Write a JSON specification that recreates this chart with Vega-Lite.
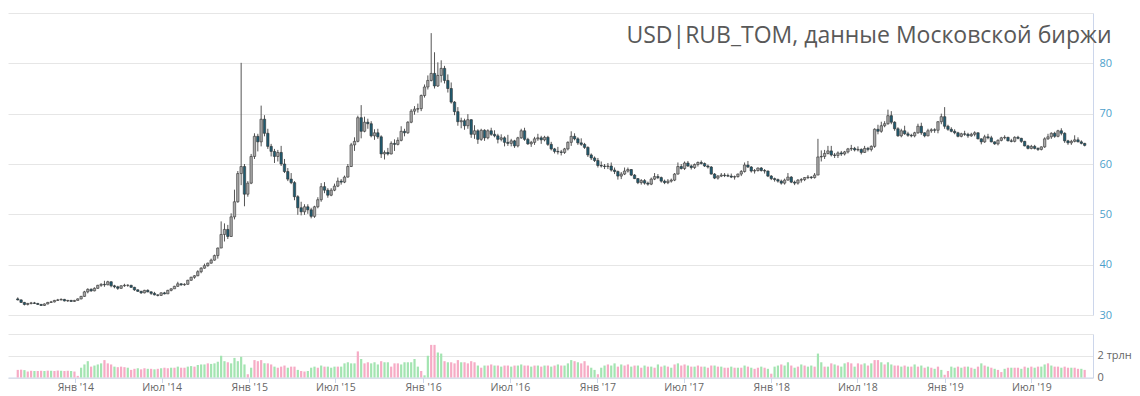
{
"$schema": "https://vega.github.io/schema/vega-lite/v6.json",
"background": "white",
"padding": {"left": 8, "top": 13, "right": 0, "bottom": 0},
"autosize": {"type": "pad"},
"bounds": "flush",
"spacing": 19,
"config": {"view": {"stroke": null}, "font": "Open Sans"},
"data": {"values": [
{"date":"2013-09-02","open":33.2,"high":33.5,"low":32.9,"close":33.0,"vol":0.70,"vc":"p"},
{"date":"2013-09-09","open":33.0,"high":33.1,"low":32.4,"close":32.5,"vol":0.72,"vc":"p"},
{"date":"2013-09-16","open":32.5,"high":32.6,"low":31.9,"close":32.1,"vol":0.68,"vc":"g"},
{"date":"2013-09-23","open":32.1,"high":32.4,"low":31.9,"close":32.3,"vol":0.55,"vc":"p"},
{"date":"2013-09-30","open":32.3,"high":32.6,"low":32.1,"close":32.4,"vol":0.62,"vc":"p"},
{"date":"2013-10-07","open":32.4,"high":32.6,"low":32.2,"close":32.3,"vol":0.60,"vc":"g"},
{"date":"2013-10-14","open":32.3,"high":32.4,"low":32.0,"close":32.1,"vol":0.60,"vc":"p"},
{"date":"2013-10-21","open":32.1,"high":32.2,"low":31.8,"close":31.9,"vol":0.62,"vc":"p"},
{"date":"2013-10-28","open":31.9,"high":32.3,"low":31.8,"close":32.2,"vol":0.60,"vc":"g"},
{"date":"2013-11-04","open":32.2,"high":32.6,"low":32.1,"close":32.5,"vol":0.63,"vc":"p"},
{"date":"2013-11-11","open":32.5,"high":32.8,"low":32.4,"close":32.6,"vol":0.62,"vc":"g"},
{"date":"2013-11-18","open":32.6,"high":33.0,"low":32.5,"close":32.9,"vol":0.60,"vc":"p"},
{"date":"2013-11-25","open":32.9,"high":33.2,"low":32.8,"close":33.0,"vol":0.64,"vc":"p"},
{"date":"2013-12-02","open":33.0,"high":33.3,"low":32.9,"close":33.1,"vol":0.62,"vc":"g"},
{"date":"2013-12-09","open":33.1,"high":33.2,"low":32.7,"close":32.8,"vol":0.60,"vc":"p"},
{"date":"2013-12-16","open":32.8,"high":33.0,"low":32.6,"close":32.9,"vol":0.62,"vc":"p"},
{"date":"2013-12-23","open":32.9,"high":33.0,"low":32.6,"close":32.7,"vol":0.60,"vc":"g"},
{"date":"2013-12-30","open":32.7,"high":33.0,"low":32.6,"close":32.9,"vol":0.55,"vc":"p"},
{"date":"2014-01-06","open":32.9,"high":33.3,"low":32.9,"close":33.2,"vol":0.15,"vc":"p"},
{"date":"2014-01-13","open":33.2,"high":33.8,"low":33.1,"close":33.7,"vol":0.90,"vc":"g"},
{"date":"2014-01-20","open":33.7,"high":34.8,"low":33.6,"close":34.6,"vol":1.20,"vc":"g"},
{"date":"2014-01-27","open":34.6,"high":35.3,"low":34.3,"close":35.1,"vol":1.50,"vc":"g"},
{"date":"2014-02-03","open":35.1,"high":35.3,"low":34.6,"close":34.8,"vol":1.00,"vc":"p"},
{"date":"2014-02-10","open":34.8,"high":35.5,"low":34.7,"close":35.3,"vol":1.10,"vc":"g"},
{"date":"2014-02-17","open":35.3,"high":36.0,"low":35.2,"close":35.9,"vol":1.20,"vc":"g"},
{"date":"2014-02-24","open":35.9,"high":36.3,"low":35.6,"close":36.1,"vol":1.30,"vc":"g"},
{"date":"2014-03-03","open":36.1,"high":36.8,"low":35.6,"close":36.0,"vol":1.60,"vc":"p"},
{"date":"2014-03-10","open":36.0,"high":36.8,"low":35.9,"close":36.6,"vol":1.30,"vc":"p"},
{"date":"2014-03-17","open":36.6,"high":36.7,"low":35.5,"close":35.8,"vol":1.20,"vc":"p"},
{"date":"2014-03-24","open":35.8,"high":36.0,"low":35.3,"close":35.6,"vol":1.00,"vc":"g"},
{"date":"2014-03-31","open":35.6,"high":35.8,"low":35.0,"close":35.3,"vol":0.95,"vc":"p"},
{"date":"2014-04-07","open":35.3,"high":35.9,"low":35.2,"close":35.8,"vol":1.00,"vc":"p"},
{"date":"2014-04-14","open":35.8,"high":36.2,"low":35.6,"close":35.9,"vol":0.95,"vc":"p"},
{"date":"2014-04-21","open":35.9,"high":36.1,"low":35.6,"close":35.9,"vol":0.90,"vc":"g"},
{"date":"2014-04-28","open":35.9,"high":36.0,"low":35.4,"close":35.5,"vol":0.70,"vc":"p"},
{"date":"2014-05-05","open":35.5,"high":35.6,"low":34.8,"close":35.0,"vol":0.80,"vc":"p"},
{"date":"2014-05-12","open":35.0,"high":35.1,"low":34.6,"close":34.7,"vol":0.85,"vc":"g"},
{"date":"2014-05-19","open":34.7,"high":34.8,"low":34.2,"close":34.4,"vol":0.75,"vc":"p"},
{"date":"2014-05-26","open":34.4,"high":35.0,"low":34.3,"close":34.9,"vol":0.85,"vc":"p"},
{"date":"2014-06-02","open":34.9,"high":35.1,"low":34.5,"close":34.6,"vol":0.80,"vc":"g"},
{"date":"2014-06-09","open":34.6,"high":34.7,"low":34.0,"close":34.3,"vol":0.80,"vc":"p"},
{"date":"2014-06-16","open":34.3,"high":34.6,"low":33.9,"close":34.0,"vol":0.75,"vc":"g"},
{"date":"2014-06-23","open":34.0,"high":34.1,"low":33.7,"close":33.9,"vol":0.80,"vc":"p"},
{"date":"2014-06-30","open":33.9,"high":34.5,"low":33.8,"close":34.4,"vol":0.85,"vc":"g"},
{"date":"2014-07-07","open":34.4,"high":34.6,"low":34.1,"close":34.2,"vol":0.90,"vc":"p"},
{"date":"2014-07-14","open":34.2,"high":35.0,"low":34.2,"close":34.9,"vol":0.85,"vc":"p"},
{"date":"2014-07-21","open":34.9,"high":35.3,"low":34.7,"close":35.2,"vol":0.90,"vc":"g"},
{"date":"2014-07-28","open":35.2,"high":35.8,"low":35.2,"close":35.7,"vol":0.90,"vc":"p"},
{"date":"2014-08-04","open":35.7,"high":36.6,"low":35.6,"close":36.2,"vol":1.00,"vc":"g"},
{"date":"2014-08-11","open":36.2,"high":36.3,"low":35.8,"close":36.0,"vol":0.90,"vc":"p"},
{"date":"2014-08-18","open":36.0,"high":36.3,"low":35.8,"close":36.1,"vol":0.90,"vc":"p"},
{"date":"2014-08-25","open":36.1,"high":37.0,"low":36.0,"close":36.9,"vol":1.00,"vc":"g"},
{"date":"2014-09-01","open":36.9,"high":37.6,"low":36.8,"close":37.5,"vol":1.05,"vc":"g"},
{"date":"2014-09-08","open":37.5,"high":37.9,"low":37.2,"close":37.8,"vol":1.00,"vc":"p"},
{"date":"2014-09-15","open":37.8,"high":38.9,"low":37.7,"close":38.6,"vol":1.15,"vc":"g"},
{"date":"2014-09-22","open":38.6,"high":39.5,"low":38.3,"close":39.3,"vol":1.20,"vc":"g"},
{"date":"2014-09-29","open":39.3,"high":40.2,"low":39.2,"close":39.8,"vol":1.20,"vc":"g"},
{"date":"2014-10-06","open":39.8,"high":40.4,"low":39.6,"close":40.3,"vol":1.30,"vc":"p"},
{"date":"2014-10-13","open":40.3,"high":41.2,"low":40.2,"close":40.9,"vol":1.25,"vc":"g"},
{"date":"2014-10-20","open":40.9,"high":42.0,"low":40.8,"close":41.8,"vol":1.30,"vc":"g"},
{"date":"2014-10-27","open":41.8,"high":43.4,"low":41.2,"close":43.3,"vol":1.45,"vc":"g"},
{"date":"2014-11-03","open":43.3,"high":48.6,"low":43.3,"close":46.0,"vol":2.00,"vc":"g"},
{"date":"2014-11-10","open":46.0,"high":48.2,"low":44.6,"close":47.0,"vol":1.50,"vc":"g"},
{"date":"2014-11-17","open":47.0,"high":47.9,"low":45.1,"close":45.6,"vol":1.40,"vc":"p"},
{"date":"2014-11-24","open":45.6,"high":50.2,"low":45.5,"close":49.5,"vol":1.30,"vc":"g"},
{"date":"2014-12-01","open":49.5,"high":54.9,"low":49.0,"close":52.5,"vol":1.80,"vc":"g"},
{"date":"2014-12-08","open":52.5,"high":58.6,"low":52.3,"close":58.1,"vol":1.50,"vc":"g"},
{"date":"2014-12-15","open":58.1,"high":80.1,"low":55.8,"close":59.5,"vol":1.90,"vc":"g"},
{"date":"2014-12-22","open":59.5,"high":60.0,"low":51.6,"close":54.0,"vol":1.20,"vc":"g"},
{"date":"2014-12-29","open":54.0,"high":56.6,"low":53.5,"close":56.2,"vol":0.30,"vc":"p"},
{"date":"2015-01-05","open":56.2,"high":62.0,"low":56.0,"close":61.5,"vol":0.90,"vc":"g"},
{"date":"2015-01-12","open":61.5,"high":66.1,"low":61.0,"close":65.5,"vol":1.60,"vc":"p"},
{"date":"2015-01-19","open":65.5,"high":66.0,"low":62.5,"close":64.4,"vol":1.50,"vc":"p"},
{"date":"2015-01-26","open":64.4,"high":71.6,"low":63.5,"close":68.9,"vol":1.60,"vc":"p"},
{"date":"2015-02-02","open":68.9,"high":69.7,"low":65.5,"close":66.1,"vol":1.30,"vc":"g"},
{"date":"2015-02-09","open":66.1,"high":67.0,"low":63.0,"close":63.5,"vol":1.30,"vc":"p"},
{"date":"2015-02-16","open":63.5,"high":64.0,"low":61.5,"close":62.5,"vol":1.20,"vc":"p"},
{"date":"2015-02-23","open":62.5,"high":63.0,"low":60.2,"close":61.5,"vol":1.00,"vc":"g"},
{"date":"2015-03-02","open":61.5,"high":62.8,"low":60.5,"close":62.3,"vol":0.90,"vc":"p"},
{"date":"2015-03-09","open":62.3,"high":63.6,"low":59.6,"close":60.0,"vol":1.00,"vc":"p"},
{"date":"2015-03-16","open":60.0,"high":61.0,"low":58.2,"close":58.5,"vol":1.10,"vc":"p"},
{"date":"2015-03-23","open":58.5,"high":59.2,"low":56.6,"close":57.0,"vol":0.90,"vc":"g"},
{"date":"2015-03-30","open":57.0,"high":58.2,"low":56.0,"close":56.3,"vol":1.00,"vc":"p"},
{"date":"2015-04-06","open":56.3,"high":56.6,"low":52.8,"close":53.5,"vol":1.00,"vc":"p"},
{"date":"2015-04-13","open":53.5,"high":53.8,"low":49.9,"close":51.3,"vol":0.70,"vc":"g"},
{"date":"2015-04-20","open":51.3,"high":52.5,"low":49.8,"close":50.5,"vol":0.60,"vc":"p"},
{"date":"2015-04-27","open":50.5,"high":52.0,"low":49.9,"close":51.5,"vol":0.55,"vc":"p"},
{"date":"2015-05-04","open":51.5,"high":52.0,"low":50.1,"close":50.9,"vol":0.60,"vc":"g"},
{"date":"2015-05-11","open":50.9,"high":51.3,"low":49.2,"close":49.6,"vol":0.90,"vc":"g"},
{"date":"2015-05-18","open":49.6,"high":51.7,"low":49.3,"close":51.5,"vol":1.00,"vc":"g"},
{"date":"2015-05-25","open":51.5,"high":53.4,"low":51.2,"close":52.9,"vol":0.90,"vc":"p"},
{"date":"2015-06-01","open":52.9,"high":56.2,"low":52.5,"close":55.5,"vol":1.10,"vc":"g"},
{"date":"2015-06-08","open":55.5,"high":56.4,"low":54.2,"close":54.8,"vol":1.00,"vc":"p"},
{"date":"2015-06-15","open":54.8,"high":55.2,"low":53.3,"close":53.8,"vol":1.00,"vc":"g"},
{"date":"2015-06-22","open":53.8,"high":55.2,"low":53.6,"close":54.8,"vol":0.90,"vc":"g"},
{"date":"2015-06-29","open":54.8,"high":56.1,"low":54.6,"close":55.6,"vol":1.00,"vc":"g"},
{"date":"2015-07-06","open":55.6,"high":57.3,"low":55.4,"close":56.6,"vol":1.00,"vc":"p"},
{"date":"2015-07-13","open":56.6,"high":57.0,"low":55.9,"close":56.4,"vol":1.00,"vc":"g"},
{"date":"2015-07-20","open":56.4,"high":57.7,"low":56.2,"close":57.4,"vol":1.30,"vc":"g"},
{"date":"2015-07-27","open":57.4,"high":60.0,"low":57.3,"close":59.5,"vol":1.40,"vc":"g"},
{"date":"2015-08-03","open":59.5,"high":64.2,"low":59.4,"close":63.8,"vol":1.30,"vc":"g"},
{"date":"2015-08-10","open":63.8,"high":65.3,"low":62.6,"close":64.5,"vol":1.30,"vc":"g"},
{"date":"2015-08-17","open":64.5,"high":69.6,"low":64.3,"close":69.2,"vol":2.40,"vc":"p"},
{"date":"2015-08-24","open":69.2,"high":71.7,"low":65.1,"close":66.5,"vol":1.70,"vc":"g"},
{"date":"2015-08-31","open":66.5,"high":69.4,"low":66.3,"close":68.3,"vol":1.30,"vc":"p"},
{"date":"2015-09-07","open":68.3,"high":69.0,"low":67.0,"close":68.0,"vol":1.40,"vc":"p"},
{"date":"2015-09-14","open":68.0,"high":68.5,"low":65.3,"close":65.6,"vol":1.30,"vc":"g"},
{"date":"2015-09-21","open":65.6,"high":66.9,"low":64.8,"close":66.2,"vol":1.40,"vc":"g"},
{"date":"2015-09-28","open":66.2,"high":67.0,"low":65.0,"close":65.4,"vol":1.20,"vc":"g"},
{"date":"2015-10-05","open":65.4,"high":65.7,"low":61.2,"close":62.0,"vol":1.50,"vc":"p"},
{"date":"2015-10-12","open":62.0,"high":62.7,"low":60.9,"close":62.3,"vol":1.40,"vc":"g"},
{"date":"2015-10-19","open":62.3,"high":63.2,"low":61.7,"close":62.0,"vol":1.40,"vc":"g"},
{"date":"2015-10-26","open":62.0,"high":64.5,"low":61.9,"close":64.1,"vol":1.00,"vc":"p"},
{"date":"2015-11-02","open":64.1,"high":64.9,"low":62.6,"close":63.9,"vol":1.30,"vc":"p"},
{"date":"2015-11-09","open":63.9,"high":65.3,"low":63.7,"close":64.7,"vol":1.30,"vc":"p"},
{"date":"2015-11-16","open":64.7,"high":67.5,"low":64.5,"close":66.5,"vol":1.20,"vc":"g"},
{"date":"2015-11-23","open":66.5,"high":67.0,"low":65.5,"close":66.2,"vol":1.40,"vc":"g"},
{"date":"2015-11-30","open":66.2,"high":68.5,"low":66.0,"close":68.3,"vol":1.40,"vc":"g"},
{"date":"2015-12-07","open":68.3,"high":70.9,"low":68.1,"close":70.5,"vol":1.40,"vc":"g"},
{"date":"2015-12-14","open":70.5,"high":71.5,"low":69.8,"close":70.9,"vol":1.70,"vc":"g"},
{"date":"2015-12-21","open":70.9,"high":72.0,"low":70.2,"close":71.0,"vol":1.00,"vc":"g"},
{"date":"2015-12-28","open":71.0,"high":73.8,"low":70.5,"close":73.6,"vol":0.60,"vc":"p"},
{"date":"2016-01-04","open":73.6,"high":75.8,"low":73.2,"close":75.3,"vol":0.20,"vc":"g"},
{"date":"2016-01-11","open":75.3,"high":77.6,"low":74.8,"close":76.6,"vol":2.00,"vc":"g"},
{"date":"2016-01-18","open":76.6,"high":86.0,"low":76.4,"close":78.0,"vol":3.00,"vc":"p"},
{"date":"2016-01-25","open":78.0,"high":82.2,"low":75.0,"close":75.5,"vol":3.00,"vc":"p"},
{"date":"2016-02-01","open":75.5,"high":80.2,"low":75.3,"close":77.6,"vol":2.30,"vc":"g"},
{"date":"2016-02-08","open":77.6,"high":80.6,"low":76.2,"close":79.0,"vol":2.20,"vc":"g"},
{"date":"2016-02-15","open":79.0,"high":79.5,"low":76.0,"close":76.6,"vol":1.50,"vc":"p"},
{"date":"2016-02-22","open":76.6,"high":77.8,"low":74.2,"close":75.0,"vol":1.40,"vc":"g"},
{"date":"2016-02-29","open":75.0,"high":76.2,"low":72.0,"close":72.3,"vol":1.40,"vc":"p"},
{"date":"2016-03-07","open":72.3,"high":72.5,"low":69.7,"close":70.4,"vol":1.30,"vc":"p"},
{"date":"2016-03-14","open":70.4,"high":71.3,"low":67.6,"close":68.4,"vol":1.60,"vc":"p"},
{"date":"2016-03-21","open":68.4,"high":69.2,"low":67.1,"close":68.6,"vol":1.40,"vc":"g"},
{"date":"2016-03-28","open":68.6,"high":69.0,"low":66.8,"close":67.6,"vol":1.40,"vc":"p"},
{"date":"2016-04-04","open":67.6,"high":69.9,"low":67.0,"close":68.8,"vol":1.30,"vc":"p"},
{"date":"2016-04-11","open":68.8,"high":68.9,"low":65.2,"close":65.9,"vol":1.50,"vc":"p"},
{"date":"2016-04-18","open":65.9,"high":67.7,"low":65.0,"close":66.6,"vol":1.40,"vc":"p"},
{"date":"2016-04-25","open":66.6,"high":66.9,"low":64.0,"close":64.9,"vol":1.10,"vc":"g"},
{"date":"2016-05-02","open":64.9,"high":67.0,"low":64.6,"close":66.7,"vol":0.90,"vc":"p"},
{"date":"2016-05-09","open":66.7,"high":66.9,"low":64.6,"close":65.2,"vol":1.10,"vc":"g"},
{"date":"2016-05-16","open":65.2,"high":66.9,"low":64.9,"close":66.6,"vol":1.10,"vc":"p"},
{"date":"2016-05-23","open":66.6,"high":67.2,"low":65.6,"close":65.9,"vol":1.20,"vc":"p"},
{"date":"2016-05-30","open":65.9,"high":66.7,"low":65.3,"close":65.6,"vol":1.10,"vc":"g"},
{"date":"2016-06-06","open":65.6,"high":66.0,"low":64.1,"close":64.9,"vol":1.10,"vc":"p"},
{"date":"2016-06-13","open":64.9,"high":65.9,"low":64.5,"close":65.2,"vol":1.00,"vc":"g"},
{"date":"2016-06-20","open":65.2,"high":65.5,"low":63.5,"close":64.3,"vol":1.10,"vc":"p"},
{"date":"2016-06-27","open":64.3,"high":65.8,"low":63.6,"close":64.1,"vol":1.10,"vc":"p"},
{"date":"2016-07-04","open":64.1,"high":65.0,"low":63.5,"close":64.6,"vol":1.00,"vc":"g"},
{"date":"2016-07-11","open":64.6,"high":64.8,"low":63.2,"close":63.6,"vol":1.10,"vc":"p"},
{"date":"2016-07-18","open":63.6,"high":65.4,"low":63.3,"close":65.2,"vol":1.10,"vc":"g"},
{"date":"2016-07-25","open":65.2,"high":67.0,"low":65.0,"close":66.6,"vol":1.20,"vc":"g"},
{"date":"2016-08-01","open":66.6,"high":67.2,"low":64.6,"close":64.9,"vol":1.10,"vc":"p"},
{"date":"2016-08-08","open":64.9,"high":65.2,"low":63.8,"close":64.0,"vol":1.10,"vc":"p"},
{"date":"2016-08-15","open":64.0,"high":64.6,"low":63.4,"close":64.3,"vol":1.00,"vc":"g"},
{"date":"2016-08-22","open":64.3,"high":65.4,"low":63.8,"close":65.0,"vol":1.10,"vc":"p"},
{"date":"2016-08-29","open":65.0,"high":66.0,"low":64.6,"close":65.2,"vol":1.10,"vc":"g"},
{"date":"2016-09-05","open":65.2,"high":65.6,"low":64.0,"close":64.8,"vol":1.00,"vc":"p"},
{"date":"2016-09-12","open":64.8,"high":65.6,"low":64.5,"close":65.3,"vol":1.10,"vc":"g"},
{"date":"2016-09-19","open":65.3,"high":65.6,"low":63.6,"close":63.9,"vol":1.10,"vc":"p"},
{"date":"2016-09-26","open":63.9,"high":64.4,"low":62.7,"close":63.0,"vol":1.00,"vc":"g"},
{"date":"2016-10-03","open":63.0,"high":63.2,"low":62.1,"close":62.5,"vol":1.10,"vc":"p"},
{"date":"2016-10-10","open":62.5,"high":63.4,"low":61.9,"close":62.4,"vol":1.20,"vc":"g"},
{"date":"2016-10-17","open":62.4,"high":62.8,"low":61.7,"close":62.3,"vol":1.10,"vc":"p"},
{"date":"2016-10-24","open":62.3,"high":63.2,"low":62.0,"close":63.0,"vol":1.10,"vc":"g"},
{"date":"2016-10-31","open":63.0,"high":64.5,"low":62.7,"close":64.3,"vol":1.30,"vc":"g"},
{"date":"2016-11-07","open":64.3,"high":66.5,"low":63.6,"close":65.5,"vol":1.60,"vc":"g"},
{"date":"2016-11-14","open":65.5,"high":66.1,"low":64.7,"close":65.0,"vol":1.50,"vc":"p"},
{"date":"2016-11-21","open":65.0,"high":65.3,"low":63.8,"close":64.2,"vol":1.40,"vc":"g"},
{"date":"2016-11-28","open":64.2,"high":65.1,"low":63.6,"close":63.9,"vol":1.30,"vc":"p"},
{"date":"2016-12-05","open":63.9,"high":64.2,"low":63.0,"close":63.3,"vol":1.50,"vc":"p"},
{"date":"2016-12-12","open":63.3,"high":63.5,"low":61.4,"close":61.8,"vol":1.10,"vc":"p"},
{"date":"2016-12-19","open":61.8,"high":62.1,"low":60.8,"close":61.2,"vol":0.90,"vc":"g"},
{"date":"2016-12-26","open":61.2,"high":61.5,"low":60.4,"close":60.7,"vol":0.70,"vc":"g"},
{"date":"2017-01-02","open":60.7,"high":61.2,"low":59.3,"close":59.7,"vol":0.30,"vc":"p"},
{"date":"2017-01-09","open":59.7,"high":60.5,"low":59.3,"close":59.6,"vol":0.90,"vc":"g"},
{"date":"2017-01-16","open":59.6,"high":60.0,"low":59.0,"close":59.5,"vol":1.10,"vc":"g"},
{"date":"2017-01-23","open":59.5,"high":60.2,"low":59.0,"close":59.6,"vol":1.20,"vc":"p"},
{"date":"2017-01-30","open":59.6,"high":60.3,"low":58.5,"close":58.8,"vol":1.10,"vc":"g"},
{"date":"2017-02-06","open":58.8,"high":59.3,"low":58.0,"close":58.5,"vol":1.30,"vc":"g"},
{"date":"2017-02-13","open":58.5,"high":58.7,"low":56.9,"close":57.6,"vol":1.00,"vc":"p"},
{"date":"2017-02-20","open":57.6,"high":58.4,"low":57.0,"close":58.0,"vol":1.20,"vc":"g"},
{"date":"2017-02-27","open":58.0,"high":59.3,"low":57.8,"close":58.6,"vol":1.10,"vc":"p"},
{"date":"2017-03-06","open":58.6,"high":59.3,"low":58.3,"close":58.9,"vol":1.20,"vc":"p"},
{"date":"2017-03-13","open":58.9,"high":59.0,"low":57.6,"close":57.8,"vol":1.00,"vc":"g"},
{"date":"2017-03-20","open":57.8,"high":58.0,"low":57.0,"close":57.1,"vol":1.10,"vc":"p"},
{"date":"2017-03-27","open":57.1,"high":57.2,"low":56.0,"close":56.3,"vol":1.10,"vc":"g"},
{"date":"2017-04-03","open":56.3,"high":57.0,"low":55.9,"close":56.7,"vol":0.90,"vc":"p"},
{"date":"2017-04-10","open":56.7,"high":57.0,"low":55.9,"close":56.2,"vol":1.10,"vc":"g"},
{"date":"2017-04-17","open":56.2,"high":56.5,"low":55.7,"close":56.0,"vol":1.00,"vc":"p"},
{"date":"2017-04-24","open":56.0,"high":57.3,"low":55.8,"close":57.0,"vol":1.00,"vc":"g"},
{"date":"2017-05-01","open":57.0,"high":58.2,"low":56.8,"close":57.5,"vol":0.90,"vc":"p"},
{"date":"2017-05-08","open":57.5,"high":58.0,"low":57.0,"close":57.3,"vol":1.20,"vc":"g"},
{"date":"2017-05-15","open":57.3,"high":57.5,"low":56.3,"close":56.6,"vol":1.00,"vc":"p"},
{"date":"2017-05-22","open":56.6,"high":56.9,"low":56.0,"close":56.3,"vol":1.10,"vc":"g"},
{"date":"2017-05-29","open":56.3,"high":57.0,"low":56.0,"close":56.6,"vol":1.00,"vc":"p"},
{"date":"2017-06-05","open":56.6,"high":57.1,"low":56.3,"close":56.8,"vol":0.90,"vc":"g"},
{"date":"2017-06-12","open":56.8,"high":58.2,"low":56.6,"close":58.0,"vol":1.20,"vc":"p"},
{"date":"2017-06-19","open":58.0,"high":60.3,"low":57.9,"close":59.5,"vol":1.30,"vc":"g"},
{"date":"2017-06-26","open":59.5,"high":60.0,"low":58.9,"close":59.1,"vol":1.10,"vc":"p"},
{"date":"2017-07-03","open":59.1,"high":60.5,"low":58.8,"close":60.2,"vol":1.20,"vc":"p"},
{"date":"2017-07-10","open":60.2,"high":60.6,"low":59.4,"close":59.6,"vol":1.10,"vc":"g"},
{"date":"2017-07-17","open":59.6,"high":59.9,"low":58.9,"close":59.3,"vol":1.00,"vc":"p"},
{"date":"2017-07-24","open":59.3,"high":60.1,"low":59.0,"close":59.9,"vol":1.00,"vc":"g"},
{"date":"2017-07-31","open":59.9,"high":60.5,"low":59.5,"close":60.3,"vol":1.10,"vc":"p"},
{"date":"2017-08-07","open":60.3,"high":60.7,"low":59.9,"close":60.1,"vol":1.00,"vc":"p"},
{"date":"2017-08-14","open":60.1,"high":60.3,"low":59.4,"close":59.6,"vol":1.00,"vc":"g"},
{"date":"2017-08-21","open":59.6,"high":59.9,"low":59.1,"close":59.4,"vol":0.90,"vc":"p"},
{"date":"2017-08-28","open":59.4,"high":59.6,"low":57.9,"close":58.0,"vol":1.10,"vc":"p"},
{"date":"2017-09-04","open":58.0,"high":58.2,"low":57.0,"close":57.2,"vol":1.10,"vc":"g"},
{"date":"2017-09-11","open":57.2,"high":57.8,"low":56.9,"close":57.6,"vol":1.00,"vc":"p"},
{"date":"2017-09-18","open":57.6,"high":58.2,"low":57.4,"close":57.8,"vol":1.00,"vc":"g"},
{"date":"2017-09-25","open":57.8,"high":58.2,"low":57.4,"close":57.7,"vol":0.90,"vc":"p"},
{"date":"2017-10-02","open":57.7,"high":58.1,"low":57.4,"close":57.6,"vol":0.90,"vc":"p"},
{"date":"2017-10-09","open":57.6,"high":58.1,"low":57.2,"close":57.4,"vol":1.00,"vc":"g"},
{"date":"2017-10-16","open":57.4,"high":57.7,"low":56.9,"close":57.5,"vol":0.90,"vc":"p"},
{"date":"2017-10-23","open":57.5,"high":58.1,"low":57.3,"close":58.0,"vol":0.90,"vc":"g"},
{"date":"2017-10-30","open":58.0,"high":58.8,"low":57.6,"close":58.5,"vol":0.90,"vc":"p"},
{"date":"2017-11-06","open":58.5,"high":60.3,"low":58.3,"close":59.8,"vol":1.10,"vc":"g"},
{"date":"2017-11-13","open":59.8,"high":60.6,"low":59.2,"close":59.4,"vol":1.00,"vc":"p"},
{"date":"2017-11-20","open":59.4,"high":59.6,"low":58.3,"close":58.6,"vol":0.90,"vc":"g"},
{"date":"2017-11-27","open":58.6,"high":59.0,"low":58.1,"close":58.7,"vol":0.80,"vc":"p"},
{"date":"2017-12-04","open":58.7,"high":59.3,"low":58.5,"close":59.2,"vol":0.90,"vc":"p"},
{"date":"2017-12-11","open":59.2,"high":59.4,"low":58.5,"close":58.7,"vol":1.00,"vc":"g"},
{"date":"2017-12-18","open":58.7,"high":59.0,"low":58.1,"close":58.6,"vol":0.90,"vc":"p"},
{"date":"2017-12-25","open":58.6,"high":58.7,"low":57.4,"close":57.6,"vol":0.80,"vc":"g"},
{"date":"2018-01-01","open":57.6,"high":57.8,"low":56.8,"close":57.1,"vol":0.35,"vc":"p"},
{"date":"2018-01-08","open":57.1,"high":57.3,"low":56.5,"close":56.9,"vol":1.00,"vc":"g"},
{"date":"2018-01-15","open":56.9,"high":57.1,"low":56.3,"close":56.6,"vol":1.10,"vc":"g"},
{"date":"2018-01-22","open":56.6,"high":56.9,"low":55.9,"close":56.2,"vol":1.20,"vc":"p"},
{"date":"2018-01-29","open":56.2,"high":57.1,"low":55.9,"close":56.8,"vol":1.10,"vc":"g"},
{"date":"2018-02-05","open":56.8,"high":58.2,"low":56.7,"close":57.4,"vol":1.40,"vc":"g"},
{"date":"2018-02-12","open":57.4,"high":57.6,"low":56.2,"close":56.4,"vol":1.10,"vc":"p"},
{"date":"2018-02-19","open":56.4,"high":56.7,"low":55.8,"close":56.2,"vol":0.90,"vc":"g"},
{"date":"2018-02-26","open":56.2,"high":57.0,"low":55.9,"close":56.8,"vol":1.00,"vc":"p"},
{"date":"2018-03-05","open":56.8,"high":57.2,"low":56.3,"close":56.9,"vol":1.20,"vc":"g"},
{"date":"2018-03-12","open":56.9,"high":57.4,"low":56.6,"close":57.3,"vol":1.10,"vc":"p"},
{"date":"2018-03-19","open":57.3,"high":57.8,"low":57.0,"close":57.4,"vol":1.00,"vc":"g"},
{"date":"2018-03-26","open":57.4,"high":57.6,"low":57.0,"close":57.3,"vol":1.10,"vc":"g"},
{"date":"2018-04-02","open":57.3,"high":58.2,"low":57.1,"close":57.8,"vol":1.00,"vc":"p"},
{"date":"2018-04-09","open":57.8,"high":65.0,"low":57.8,"close":61.4,"vol":2.20,"vc":"g"},
{"date":"2018-04-16","open":61.4,"high":62.7,"low":60.5,"close":61.5,"vol":1.40,"vc":"g"},
{"date":"2018-04-23","open":61.5,"high":62.8,"low":61.0,"close":62.1,"vol":1.00,"vc":"p"},
{"date":"2018-04-30","open":62.1,"high":63.6,"low":61.9,"close":62.6,"vol":1.00,"vc":"g"},
{"date":"2018-05-07","open":62.6,"high":63.6,"low":61.5,"close":61.8,"vol":1.30,"vc":"p"},
{"date":"2018-05-14","open":61.8,"high":62.2,"low":61.2,"close":61.7,"vol":1.20,"vc":"g"},
{"date":"2018-05-21","open":61.7,"high":62.5,"low":61.2,"close":62.2,"vol":1.10,"vc":"p"},
{"date":"2018-05-28","open":62.2,"high":62.6,"low":61.6,"close":62.0,"vol":1.00,"vc":"g"},
{"date":"2018-06-04","open":62.0,"high":62.6,"low":61.7,"close":62.4,"vol":1.30,"vc":"g"},
{"date":"2018-06-11","open":62.4,"high":63.2,"low":62.1,"close":63.0,"vol":1.40,"vc":"p"},
{"date":"2018-06-18","open":63.0,"high":63.8,"low":62.6,"close":63.1,"vol":1.30,"vc":"p"},
{"date":"2018-06-25","open":63.1,"high":63.4,"low":62.5,"close":62.8,"vol":1.00,"vc":"g"},
{"date":"2018-07-02","open":62.8,"high":63.5,"low":62.5,"close":62.9,"vol":1.30,"vc":"p"},
{"date":"2018-07-09","open":62.9,"high":63.1,"low":61.9,"close":62.3,"vol":1.20,"vc":"p"},
{"date":"2018-07-16","open":62.3,"high":63.6,"low":62.2,"close":63.1,"vol":1.30,"vc":"g"},
{"date":"2018-07-23","open":63.1,"high":63.4,"low":62.5,"close":62.9,"vol":1.10,"vc":"p"},
{"date":"2018-07-30","open":62.9,"high":63.7,"low":62.5,"close":63.5,"vol":1.30,"vc":"g"},
{"date":"2018-08-06","open":63.5,"high":67.1,"low":63.2,"close":66.9,"vol":1.60,"vc":"p"},
{"date":"2018-08-13","open":66.9,"high":67.8,"low":65.9,"close":66.5,"vol":1.60,"vc":"p"},
{"date":"2018-08-20","open":66.5,"high":68.4,"low":66.2,"close":67.6,"vol":1.40,"vc":"g"},
{"date":"2018-08-27","open":67.6,"high":68.5,"low":67.3,"close":68.0,"vol":1.20,"vc":"p"},
{"date":"2018-09-03","open":68.0,"high":70.8,"low":67.8,"close":69.6,"vol":1.40,"vc":"g"},
{"date":"2018-09-10","open":69.6,"high":70.5,"low":67.9,"close":68.3,"vol":1.20,"vc":"g"},
{"date":"2018-09-17","open":68.3,"high":68.5,"low":66.6,"close":67.0,"vol":1.10,"vc":"p"},
{"date":"2018-09-24","open":67.0,"high":67.3,"low":65.4,"close":65.6,"vol":1.10,"vc":"p"},
{"date":"2018-10-01","open":65.6,"high":67.0,"low":65.3,"close":66.6,"vol":1.00,"vc":"g"},
{"date":"2018-10-08","open":66.6,"high":67.6,"low":65.8,"close":66.0,"vol":1.10,"vc":"p"},
{"date":"2018-10-15","open":66.0,"high":66.4,"low":65.4,"close":65.7,"vol":1.00,"vc":"g"},
{"date":"2018-10-22","open":65.7,"high":66.0,"low":65.3,"close":65.6,"vol":1.00,"vc":"p"},
{"date":"2018-10-29","open":65.6,"high":66.4,"low":65.3,"close":66.2,"vol":1.20,"vc":"g"},
{"date":"2018-11-05","open":66.2,"high":68.0,"low":66.0,"close":67.5,"vol":1.00,"vc":"p"},
{"date":"2018-11-12","open":67.5,"high":68.2,"low":65.8,"close":66.2,"vol":1.10,"vc":"g"},
{"date":"2018-11-19","open":66.2,"high":66.3,"low":65.3,"close":65.6,"vol":0.90,"vc":"p"},
{"date":"2018-11-26","open":65.6,"high":67.0,"low":65.5,"close":66.6,"vol":1.00,"vc":"g"},
{"date":"2018-12-03","open":66.6,"high":67.1,"low":66.2,"close":66.8,"vol":0.90,"vc":"p"},
{"date":"2018-12-10","open":66.8,"high":67.1,"low":66.2,"close":66.7,"vol":0.80,"vc":"g"},
{"date":"2018-12-17","open":66.7,"high":68.5,"low":66.1,"close":68.4,"vol":1.00,"vc":"p"},
{"date":"2018-12-24","open":68.4,"high":70.0,"low":67.9,"close":69.4,"vol":0.70,"vc":"g"},
{"date":"2018-12-31","open":69.4,"high":71.3,"low":67.0,"close":67.5,"vol":0.25,"vc":"p"},
{"date":"2019-01-07","open":67.5,"high":67.8,"low":66.6,"close":66.9,"vol":0.60,"vc":"p"},
{"date":"2019-01-14","open":66.9,"high":67.3,"low":66.3,"close":66.5,"vol":1.00,"vc":"g"},
{"date":"2019-01-21","open":66.5,"high":66.9,"low":65.9,"close":66.2,"vol":0.90,"vc":"g"},
{"date":"2019-01-28","open":66.2,"high":66.4,"low":65.3,"close":65.5,"vol":1.00,"vc":"p"},
{"date":"2019-02-04","open":65.5,"high":66.2,"low":65.3,"close":66.0,"vol":0.90,"vc":"g"},
{"date":"2019-02-11","open":66.0,"high":66.6,"low":65.6,"close":65.9,"vol":1.00,"vc":"p"},
{"date":"2019-02-18","open":65.9,"high":66.2,"low":65.2,"close":65.6,"vol":1.00,"vc":"g"},
{"date":"2019-02-25","open":65.6,"high":66.2,"low":65.4,"close":65.9,"vol":0.90,"vc":"p"},
{"date":"2019-03-04","open":65.9,"high":66.5,"low":65.5,"close":66.2,"vol":0.80,"vc":"g"},
{"date":"2019-03-11","open":66.2,"high":66.3,"low":64.9,"close":65.0,"vol":1.00,"vc":"p"},
{"date":"2019-03-18","open":65.0,"high":65.1,"low":63.9,"close":64.4,"vol":1.30,"vc":"g"},
{"date":"2019-03-25","open":64.4,"high":65.8,"low":64.2,"close":65.4,"vol":1.10,"vc":"p"},
{"date":"2019-04-01","open":65.4,"high":66.0,"low":64.9,"close":65.2,"vol":1.00,"vc":"g"},
{"date":"2019-04-08","open":65.2,"high":65.6,"low":64.3,"close":64.4,"vol":0.90,"vc":"p"},
{"date":"2019-04-15","open":64.4,"high":64.5,"low":63.8,"close":64.0,"vol":0.80,"vc":"g"},
{"date":"2019-04-22","open":64.0,"high":64.9,"low":63.7,"close":64.7,"vol":0.70,"vc":"p"},
{"date":"2019-04-29","open":64.7,"high":65.4,"low":64.5,"close":65.2,"vol":0.50,"vc":"p"},
{"date":"2019-05-06","open":65.2,"high":65.7,"low":64.9,"close":65.3,"vol":0.80,"vc":"g"},
{"date":"2019-05-13","open":65.3,"high":65.4,"low":64.5,"close":64.6,"vol":0.90,"vc":"p"},
{"date":"2019-05-20","open":64.6,"high":65.0,"low":64.3,"close":64.5,"vol":0.90,"vc":"g"},
{"date":"2019-05-27","open":64.5,"high":65.5,"low":64.3,"close":65.3,"vol":0.90,"vc":"p"},
{"date":"2019-06-03","open":65.3,"high":65.6,"low":64.9,"close":65.1,"vol":0.90,"vc":"p"},
{"date":"2019-06-10","open":65.1,"high":65.2,"low":64.2,"close":64.5,"vol":0.80,"vc":"g"},
{"date":"2019-06-17","open":64.5,"high":64.6,"low":63.5,"close":63.6,"vol":1.00,"vc":"p"},
{"date":"2019-06-24","open":63.6,"high":63.8,"low":62.9,"close":63.1,"vol":0.90,"vc":"g"},
{"date":"2019-07-01","open":63.1,"high":63.8,"low":62.9,"close":63.5,"vol":1.00,"vc":"p"},
{"date":"2019-07-08","open":63.5,"high":63.8,"low":62.9,"close":63.1,"vol":0.90,"vc":"g"},
{"date":"2019-07-15","open":63.1,"high":63.3,"low":62.6,"close":62.9,"vol":1.00,"vc":"p"},
{"date":"2019-07-22","open":62.9,"high":63.5,"low":62.7,"close":63.4,"vol":1.00,"vc":"g"},
{"date":"2019-07-29","open":63.4,"high":65.3,"low":63.2,"close":65.0,"vol":1.20,"vc":"g"},
{"date":"2019-08-05","open":65.0,"high":66.0,"low":64.8,"close":65.4,"vol":1.30,"vc":"p"},
{"date":"2019-08-12","open":65.4,"high":66.3,"low":65.0,"close":66.1,"vol":1.10,"vc":"g"},
{"date":"2019-08-19","open":66.1,"high":66.4,"low":65.2,"close":65.5,"vol":1.00,"vc":"p"},
{"date":"2019-08-26","open":65.5,"high":66.8,"low":65.3,"close":66.6,"vol":1.00,"vc":"p"},
{"date":"2019-09-02","open":66.6,"high":67.1,"low":65.7,"close":66.1,"vol":0.90,"vc":"g"},
{"date":"2019-09-09","open":66.1,"high":66.3,"low":64.2,"close":64.6,"vol":1.00,"vc":"p"},
{"date":"2019-09-16","open":64.6,"high":64.8,"low":63.8,"close":64.2,"vol":0.90,"vc":"p"},
{"date":"2019-09-23","open":64.2,"high":64.8,"low":63.8,"close":64.5,"vol":0.90,"vc":"g"},
{"date":"2019-09-30","open":64.5,"high":65.7,"low":64.3,"close":64.8,"vol":0.90,"vc":"p"},
{"date":"2019-10-07","open":64.8,"high":65.3,"low":64.3,"close":64.4,"vol":0.80,"vc":"p"},
{"date":"2019-10-14","open":64.4,"high":64.7,"low":63.9,"close":64.1,"vol":0.80,"vc":"g"},
{"date":"2019-10-21","open":64.1,"high":64.2,"low":63.5,"close":63.7,"vol":0.70,"vc":"p"}
]},
"vconcat": [
{
"width": 1085,
"height": 302,
"title": {"text": "USD|RUB_TOM, данные Московской биржи", "anchor": "end", "frame": "bounds", "orient": "top", "offset": -34, "dx": 0, "dy": 19, "font": "Open Sans", "fontSize": 23, "fontWeight": "normal", "color": "#595959", "baseline": "alphabetic"},
"layer": [
{
"mark": {"type": "rule", "color": "#555555", "strokeWidth": 1},
"encoding": {
"x": {"field": "date", "type": "temporal", "scale": {"type": "utc", "domain": [{"year": 2013, "month": "Aug", "date": 23, "utc": true}, {"year": 2019, "month": "Oct", "date": 28, "utc": true}]}, "axis": null},
"y": {"field": "low", "type": "quantitative", "scale": {"domain": [30, 90], "nice": false, "zero": false},
"axis": {"orient": "right", "title": null, "values": [30, 40, 50, 60, 70, 80, 90], "labelExpr": "datum.value == 90 ? '' : datum.label", "grid": true, "gridColor": "#e6e6e6", "domainColor": "#ccd6eb", "ticks": false, "labelColor": "#4d9fcb", "labelFontSize": 11, "labelPadding": 6, "labelFont": "Open Sans"}},
"y2": {"field": "high"}
}
},
{
"mark": {"type": "bar", "width": 2.4, "stroke": "#333333", "strokeWidth": 0.6},
"encoding": {
"x": {"field": "date", "type": "temporal", "scale": {"type": "utc", "domain": [{"year": 2013, "month": "Aug", "date": 23, "utc": true}, {"year": 2019, "month": "Oct", "date": 28, "utc": true}]}, "axis": null},
"y": {"field": "open", "type": "quantitative"},
"y2": {"field": "close"},
"color": {"condition": {"test": "datum.close >= datum.open", "value": "#a9a9a9"}, "value": "#1f5c72"}
}
}
]
},
{
"width": 1085,
"height": 43.5,
"mark": {"type": "bar", "width": 2.2},
"encoding": {
"x": {"field": "date", "type": "temporal", "scale": {"type": "utc", "domain": [{"year": 2013, "month": "Aug", "date": 23, "utc": true}, {"year": 2019, "month": "Oct", "date": 28, "utc": true}]},
"axis": {"title": null, "tickCount": {"interval": "month", "step": 6}, "labelExpr": "(utcmonth(datum.value) == 0 ? 'Янв' : 'Июл') + \" '\" + utcFormat(datum.value, '%y')", "grid": false, "domainColor": "#ccd6eb", "tickColor": "#ccd6eb", "tickSize": 5, "labelColor": "#666666", "labelFontSize": 10.5, "labelPadding": 0, "labelFont": "Open Sans", "labelFlush": false}},
"y": {"field": "vol", "type": "quantitative", "scale": {"domain": [0, 4], "nice": false},
"axis": {"orient": "right", "title": null, "values": [0, 2, 4], "labelExpr": "datum.value == 2 ? '2 трлн' : (datum.value == 0 ? '0' : '')", "grid": true, "gridColor": "#e6e6e6", "domainColor": "#ccd6eb", "ticks": false, "labelColor": "#666666", "labelFontSize": 11, "labelPadding": 4, "labelFont": "Open Sans"}},
"color": {"field": "vc", "type": "nominal", "scale": {"domain": ["g", "p"], "range": ["#a3e4b1", "#f6abc5"]}, "legend": null}
}
}
]
}
